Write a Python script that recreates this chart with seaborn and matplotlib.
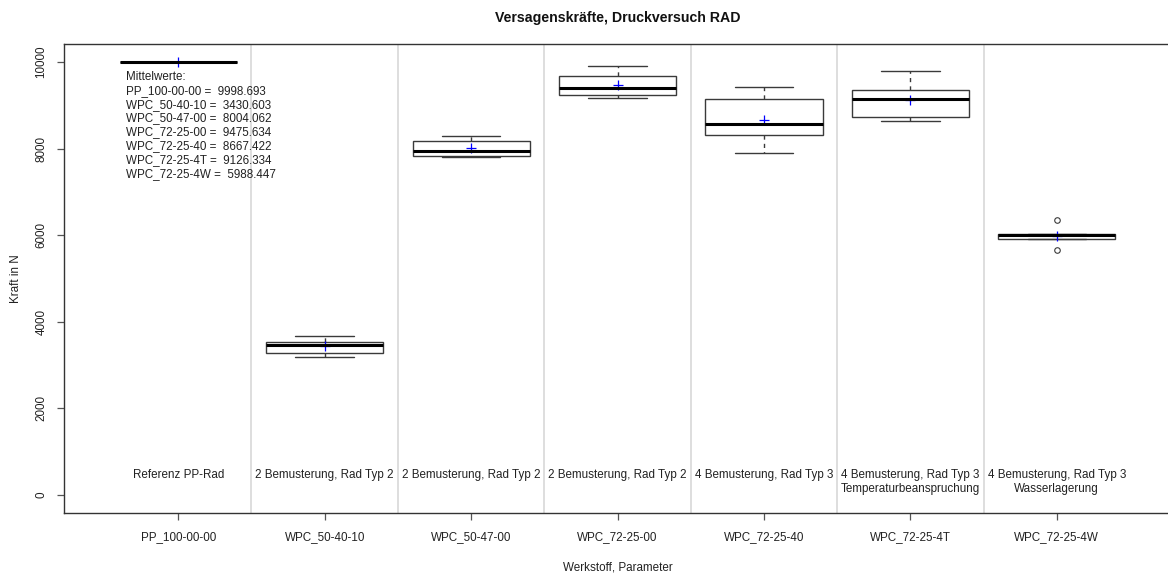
import numpy as np
import pandas as pd
import matplotlib
matplotlib.use("Agg")
import matplotlib.pyplot as plt
import seaborn as sns

# Materials / parameter sets (x categories)
materials = ["PP_100-00-00", "WPC_50-40-10", "WPC_50-47-00", "WPC_72-25-00",
             "WPC_72-25-40", "WPC_72-25-4T", "WPC_72-25-4W"]

# Failure forces in N per material (five-number style samples)
pp_100_00_00 = [10000, 10000, 10000, 10000, 10000]
wpc_50_40_10 = [3180, 3272, 3463, 3526, 3678]
wpc_50_47_00 = [7797, 7828, 7943, 8174, 8282]
wpc_72_25_00 = [9174, 9229, 9390, 9682, 9913]
wpc_72_25_40 = [7890, 8305, 8566, 9151, 9414]
wpc_72_25_4t = [8636, 8728, 9151, 9352, 9783]
wpc_72_25_4w = [5657, 5904, 6010, 6038, 6343]

# Mean values per material
means = [9998.693, 3430.603, 8004.062, 9475.634, 8667.422, 9126.334, 5988.447]

# Test series description per material
descriptions = ["Referenz PP-Rad",
                "2 Bemusterung, Rad Typ 2",
                "2 Bemusterung, Rad Typ 2",
                "2 Bemusterung, Rad Typ 2",
                "4 Bemusterung, Rad Typ 3",
                "4 Bemusterung, Rad Typ 3\nTemperaturbeanspruchung",
                "4 Bemusterung, Rad Typ 3\nWasserlagerung"]

yticks = [0, 2000, 4000, 6000, 8000, 10000]

samples = [pp_100_00_00, wpc_50_40_10, wpc_50_47_00, wpc_72_25_00,
           wpc_72_25_40, wpc_72_25_4t, wpc_72_25_4w]
df = pd.DataFrame({
    "Werkstoff": np.repeat(materials, [len(s) for s in samples]),
    "Kraft": np.concatenate(samples),
})

sns.set_theme(style="white")
plt.rcParams["font.family"] = ["Liberation Sans", "DejaVu Sans"]

FS = 8.4
TXT = "#222222"

fig = plt.figure(figsize=(11.68, 5.73), dpi=100)
ax = fig.add_axes([64 / 1168, 1 - 513 / 573, 1107 / 1168, 469 / 573])

# group separators
for i in range(len(materials) - 1):
    ax.axvline(i + 0.5, color="#d8d8d8", lw=1.2, zorder=0)

edge = "#3a3a3a"
sns.boxplot(data=df, x="Werkstoff", y="Kraft", order=materials, ax=ax,
            color="white", linecolor=edge, linewidth=1.0, width=0.8,
            whis=1.5, saturation=1,
            medianprops=dict(color="black", linewidth=2.2),
            whiskerprops=dict(linestyle=(0, (3, 3)), color=edge),
            capprops=dict(color=edge),
            flierprops=dict(marker="o", markerfacecolor="none",
                            markeredgecolor=edge, markersize=4,
                            markeredgewidth=0.8))

sns.pointplot(x=materials, y=means, order=materials, ax=ax, color="blue",
              marker="+", linestyle="none", markersize=7,
              markeredgewidth=0.9, errorbar=None)

# summary of mean values
summary = "Mittelwerte:\n" + "\n".join(
    f"{name} =  {m:.3f}" for name, m in zip(materials, means))
ax.text(-0.355, 9790, summary, ha="left", va="top", fontsize=FS,
        color=TXT, linespacing=1.2)

# descriptions above the x axis
for i, d in enumerate(descriptions):
    ax.text(i, 600, d, ha="center", va="top", fontsize=FS,
            color=TXT, linespacing=1.25)

ax.set_xlim(-0.78, 6.78)
ax.set_ylim(-416, 10416)
ax.set_yticks(yticks)
ax.set_yticklabels([str(t) for t in yticks], rotation=90, va="center")
ax.tick_params(axis="both", direction="out", length=5, width=0.9,
               color="#555555", labelsize=FS, labelcolor=TXT,
               bottom=True, left=True)
ax.tick_params(axis="x", pad=8)
ax.tick_params(axis="y", pad=7)

for s in ax.spines.values():
    s.set_color("#333333")
    s.set_linewidth(1.0)

ax.set_title("Versagenskräfte, Druckversuch RAD", fontsize=10.2,
             fontweight="bold", pad=16, color="#111111")
ax.set_xlabel("Werkstoff, Parameter", fontsize=FS, color=TXT, labelpad=13)
ax.set_ylabel("Kraft in N", fontsize=FS, color=TXT)
ax.yaxis.set_label_coords(-0.038, 0.5)

fig.savefig("out.png", dpi=100)
